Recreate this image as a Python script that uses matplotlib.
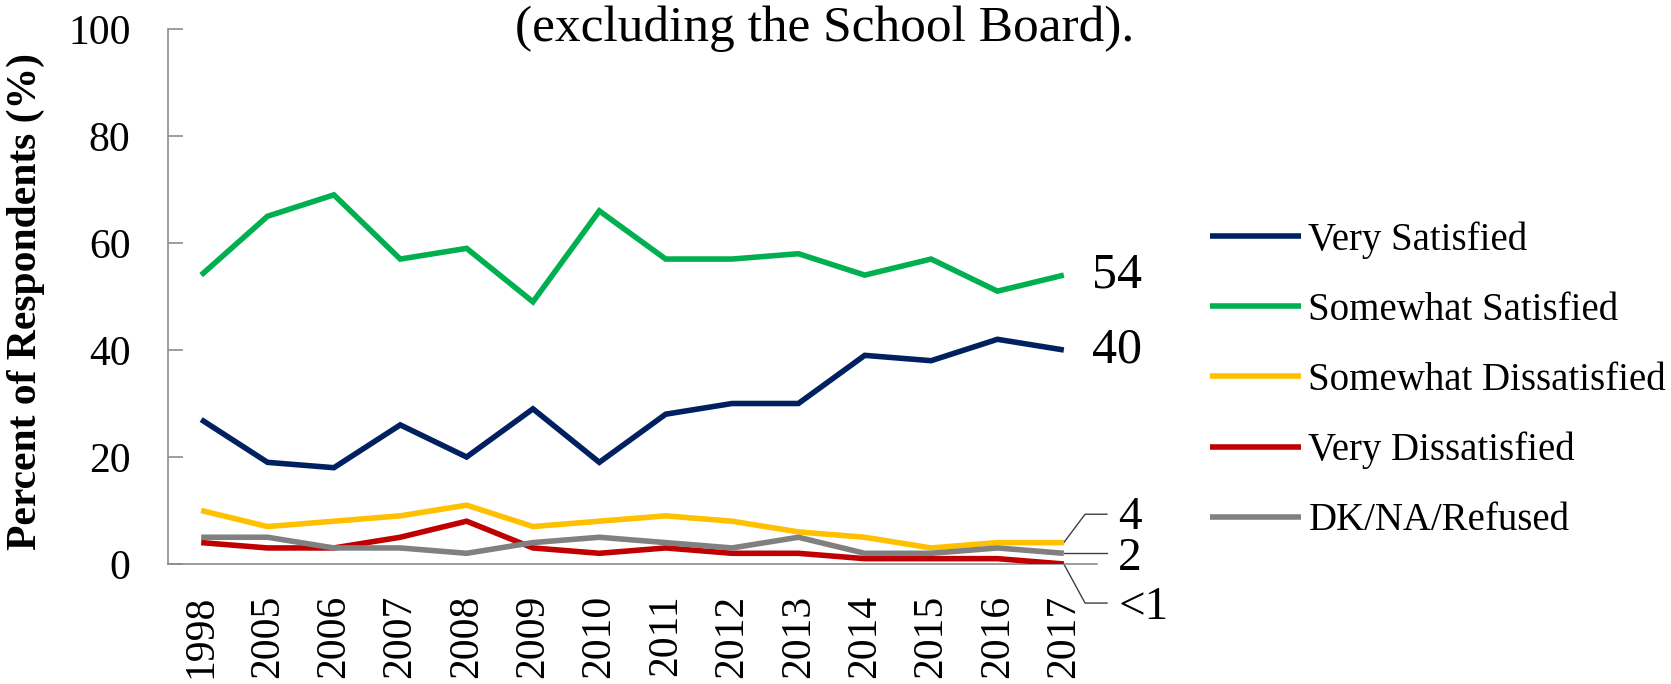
import matplotlib
matplotlib.use("Agg")
import matplotlib.pyplot as plt
import numpy as np

years = ["1998", "2005", "2006", "2007", "2008", "2009", "2010",
         "2011", "2012", "2013", "2014", "2015", "2016", "2017"]
very_satisfied = [27, 19, 18, 26, 20, 29, 19, 28, 30, 30, 39, 38, 42, 40]
somewhat_satisfied = [54, 65, 69, 57, 59, 49, 66, 57, 57, 58, 54, 57, 51, 54]
somewhat_dissatisfied = [10, 7, 8, 9, 11, 7, 8, 9, 8, 6, 5, 3, 4, 4]
very_dissatisfied = [4, 3, 3, 5, 8, 3, 2, 3, 2, 2, 1, 1, 1, 0]
dk_na_refused = [5, 5, 3, 3, 2, 4, 5, 4, 3, 5, 2, 2, 3, 2]

series_names = ["Very Satisfied", "Somewhat Satisfied", "Somewhat Dissatisfied",
                "Very Dissatisfied", "DK/NA/Refused"]
series_values = [very_satisfied, somewhat_satisfied, somewhat_dissatisfied,
                 very_dissatisfied, dk_na_refused]
colors = ["#002060", "#00B050", "#FFC000", "#C00000", "#808080"]
end_labels = ["40", "54", "4", "<1", "2"]

plt.rcParams['font.family'] = ['Liberation Serif', 'DejaVu Serif']

W, H = 1671, 684
fig = plt.figure(figsize=(W / 100, H / 100), dpi=100)
ax_left, ax_right = 168 / W, 1097 / W
ax_bottom, ax_top = 1 - 564 / H, 1 - 29 / H
ax = fig.add_axes([ax_left, ax_bottom, ax_right - ax_left, ax_top - ax_bottom])

x = np.arange(len(years))
lines = []
for name, vals, c in zip(series_names, series_values, colors):
    ln, = ax.plot(x, vals, color=c, lw=4.0, label=name, solid_joinstyle='miter',
                  solid_capstyle='butt', zorder=3)
    lines.append(ln)

ax.set_xlim(-0.5, len(years) - 0.5)
ax.set_ylim(0, 100)
ax.set_yticks([0, 20, 40, 60, 80, 100])
ax.set_xticks(x)
ax.set_xticklabels(years, rotation=90, fontsize=30)
ax.tick_params(axis='x', length=0, pad=22)
ax.tick_params(axis='y', direction='in', length=11, width=1.2, color='#8c8c8c',
               labelsize=30, pad=27)
for s in ['top', 'right']:
    ax.spines[s].set_visible(False)
for s in ['left', 'bottom']:
    ax.spines[s].set_color('#8c8c8c')
    ax.spines[s].set_linewidth(1.2)

# end labels
last = len(years) - 1
ax.text(last + 0.42, somewhat_satisfied[-1], end_labels[1], fontsize=36,
        ha='left', va='center')
ax.text(last + 0.42, very_satisfied[-1], end_labels[0], fontsize=36,
        ha='left', va='center')

# leader lines for small values
y4 = somewhat_dissatisfied[-1]
ax.plot([last, last + 0.32, last + 0.65], [y4, 9.3, 9.3], color='#404040', lw=1.0,
        clip_on=False)
ax.text(last + 0.82, 8.6, end_labels[2], fontsize=34, ha='left', va='center')
y2 = dk_na_refused[-1]
ax.plot([last, last + 0.65], [y2, y2], color='#404040', lw=1.0, clip_on=False)
ax.text(last + 0.82, 0.9, end_labels[4], fontsize=34, ha='left', va='center')
y1 = very_dissatisfied[-1]
ax.plot([last, last + 0.32, last + 0.65], [y1, -7.3, -7.3], color='#404040', lw=1.0,
        clip_on=False)
ax.text(last + 0.82, -8.2, end_labels[3], fontsize=34, ha='left', va='center')

# y label and title
fig.text(26 / W, 1 - 301 / H, "Percent of Respondents (%)", rotation=90,
         fontsize=30, fontweight='bold', ha='center', va='center')
fig.text(825 / W, 1 - 41 / H, "(excluding the School Board).", fontsize=37,
         ha='center', va='baseline')

leg = fig.legend(handles=lines, loc='upper left',
                 bbox_to_anchor=(1210 / W, 1 - 221 / H), frameon=False,
                 fontsize=28, handlelength=2.33, handletextpad=0.2,
                 labelspacing=0.85, borderaxespad=0, borderpad=0)

fig.savefig("out.png", dpi=100)
